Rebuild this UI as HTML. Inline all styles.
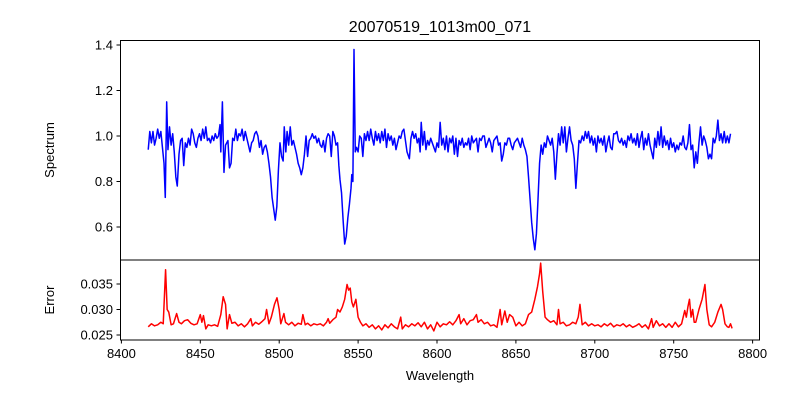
<!DOCTYPE html>
<html><head><meta charset="utf-8"><style>
html,body{margin:0;padding:0;background:#fff;}
svg{display:block;font-family:"Liberation Sans","DejaVu Sans",sans-serif;}
</style></head><body>
<svg id="chart" width="800" height="400" viewBox="0 0 800 400">
<text x="440" y="32" font-size="16" text-anchor="middle">20070519_1013m00_071</text>
<text transform="translate(54,150) rotate(-90)" font-size="13" text-anchor="middle">Spectrum</text>
<text transform="translate(54,300) rotate(-90)" font-size="13" text-anchor="middle">Error</text>
<text x="440" y="380" font-size="13" text-anchor="middle">Wavelength</text>
<g id="g"></g>
</svg>
<script>
const specW=[8417,8418,8419,8420,8421,8422,8423,8424,8425,8426,8427,8427.8,8428.7,8429.5,8430.5,8431.5,8432.5,8433.5,8434.5,8435.4,8436.5,8437.5,8438.5,8439.5,8440.5,8441.5,8442.5,8443.5,8444.5,8445.5,8446.5,8447.5,8448.5,8449.5,8450.5,8451.5,8452.5,8453.5,8454.5,8455.5,8456.5,8457.5,8458.5,8459.5,8460.5,8461.5,8462.5,8463,8464,8465,8466,8467.5,8468.5,8469.5,8470.5,8471.5,8472.5,8473.5,8474.5,8475.5,8476.5,8477.5,8478.5,8479.5,8480.5,8481.5,8482.5,8483.5,8484.5,8485.5,8486.5,8487.5,8488.5,8489.5,8490.5,8491.5,8492.5,8493.5,8494.5,8495.5,8496.5,8497.5,8498.5,8499.5,8500.5,8501.5,8502.5,8503.2,8504.2,8505,8506,8507,8508,8509,8510,8511,8512,8513,8514,8515,8516,8517,8518,8519,8520,8521,8522,8523,8524,8525,8526,8527,8528,8529,8530,8531,8532,8533,8534,8535,8536,8537,8537.8,8538.5,8539.5,8540.5,8541.5,8542.5,8543.5,8544.5,8545.5,8546,8546.7,8547.4,8548.2,8549,8550,8551,8552,8553,8554,8555,8556,8557,8558,8559,8560,8561,8562,8563,8564,8565,8566,8567,8568,8569,8570,8571,8572,8573,8574,8575,8576,8577,8578,8579,8580,8581,8582.5,8583.5,8584.5,8585.5,8586.5,8587.5,8588.5,8589.3,8590,8591,8592,8593,8594,8595,8596,8597,8598,8599,8600,8601,8602,8603,8604,8605,8606,8607,8608,8609,8610,8611,8612,8613,8614,8615,8616,8617,8618,8619,8620,8621,8622,8623,8624,8625,8626,8627,8628,8629,8630,8631,8632,8633,8634,8635,8636,8637,8638,8639,8640,8641,8642,8643,8644,8645,8646,8647,8648,8649,8650,8651,8652,8653,8654,8655,8656,8657,8658,8659,8660,8661,8662,8663,8664,8665,8666,8667,8668,8669,8670,8671,8672,8673,8674,8675,8676,8677,8678,8679,8680,8681,8682,8683,8684,8685,8686,8687,8688,8689,8690,8691,8692,8693,8694,8695,8696,8697,8698,8699,8700,8701,8702,8703,8704,8705,8706,8707,8708,8709,8710,8711,8712,8713,8714,8715,8716,8717,8718,8719,8720,8721,8722,8723,8724,8725,8726,8727,8728,8729,8730,8731,8732,8733,8734,8735,8736,8737,8738,8739,8740,8741,8742,8743,8744,8745,8746,8747,8748,8749,8750,8751,8752,8753,8754,8755,8756,8757,8758,8759,8760,8761,8762,8763,8764,8765,8766,8767,8768,8769,8770,8771,8772,8773,8774,8775,8776,8777,8778,8779,8780,8781,8782,8783,8784,8785,8786];
const specV=[.94,1.02,.97,1.02,.96,.99,1.03,.99,1.02,.95,.88,.73,1.15,.94,1.04,.96,1.01,.93,.82,.78,.92,.98,.99,.87,.97,.95,.99,.96,1.03,1.01,.97,.95,.99,1.01,.98,1.03,.99,1.04,.98,.99,.97,1.0,.98,1.01,.99,1.0,1.05,.93,1.15,.84,.96,.98,.86,.88,.99,.98,1.03,.98,1.01,1.0,1.03,.98,1.02,.99,.96,.93,.97,.98,1.01,1.02,1.0,.95,.98,.92,.95,.96,.93,.88,.82,.73,.68,.63,.69,.85,.97,.91,.89,1.04,.93,1.02,.96,1.04,.96,.98,.95,.92,.88,.86,.83,.86,.92,1.0,.91,.98,.99,1.01,.99,1.0,.97,.99,.96,.95,.98,.93,.99,1.01,1.0,.91,1.02,1.0,.96,.97,.87,.81,.75,.63,.525,.56,.64,.7,.77,.83,.8,1.38,.93,.95,.93,1.0,.99,.91,1.01,.98,1.02,.98,1.03,.99,.96,1.02,.98,1.01,.97,1.02,.98,1.03,.95,1.01,.98,1.0,.96,.99,.94,.97,1.0,.99,1.02,1.03,.98,.93,.9,.99,1.02,.99,1.01,.97,.99,.93,1.06,.96,1.02,.94,.98,.96,.99,.97,.95,.93,.97,.95,1.06,.96,.99,.94,1.0,.93,.99,.97,1.0,.92,.99,.91,.98,.96,.99,.95,.97,.96,.99,.94,1.0,.97,.98,.99,.93,.99,.98,1.0,1.0,.95,.97,.99,.97,.93,.98,.99,1.0,.96,.97,.89,.92,.97,.96,.99,.99,.96,.94,.97,.98,.99,.97,.95,.99,.96,.94,.91,.82,.72,.62,.55,.5,.57,.72,.88,.96,.92,.97,.95,1.0,.98,.96,.99,.93,.81,.92,1.01,.96,1.04,.97,1.04,.93,.99,1.04,.98,.96,.9,.77,.88,.98,.97,1.0,.98,1.02,.99,1.02,.97,1.0,.96,.99,.93,1.0,.97,.99,.96,1.0,.93,.97,1.0,.95,.94,1.01,1.01,1.02,.98,.97,.99,.96,.98,.95,1.0,.98,1.01,.97,.99,.96,1.01,.95,.99,1.02,.94,.99,.96,1.01,.96,.93,.9,.99,.95,1.02,.96,1.04,.95,1.0,.96,.98,.94,.99,.95,.97,.93,.96,.94,.97,.96,1.0,.95,.94,.97,1.05,.94,.96,.86,.93,.88,.97,1.04,.96,1.0,.98,.95,.9,.92,.9,.99,.97,1.0,1.07,.98,1.01,.97,1.02,.97,1.0,.97,1.01];
const errW=[8417,8419,8421,8423,8425,8426.5,8428,8429,8430,8431.5,8433,8435,8436.5,8438,8440,8442,8444,8446,8448,8450,8451,8452,8453.5,8455,8457,8459,8461,8463,8464.5,8466,8467,8468.5,8470,8472,8474,8476,8478,8480,8482,8483,8485,8487,8489,8491,8492,8493.5,8495,8497,8498.6,8500,8501,8503,8504,8506,8508,8510,8512,8514,8515,8516.5,8518,8520,8522,8524,8526,8528,8530,8531,8532,8534,8536,8537,8538.5,8540,8541.5,8543,8544,8545,8546,8547,8548.6,8550,8551.5,8553,8555,8557,8559,8561,8563,8565,8567,8569,8571,8573,8575,8577,8578,8580,8582,8584,8586,8588,8590,8592,8594,8596,8598,8600,8602,8604,8606,8608,8610,8612,8614,8615,8617,8619,8621,8623,8625,8626,8628,8630,8632,8634,8636,8638,8640,8641,8643,8644.5,8646,8648,8650,8652,8654,8656,8658,8660,8662,8663.7,8665,8665.7,8667,8668.5,8670,8672,8674,8676,8677,8678,8680,8682,8684,8686,8688,8689.5,8690.6,8692,8694,8696,8698,8700,8702,8704,8706,8708,8710,8712,8714,8716,8718,8720,8722,8724,8726,8728,8730,8732,8734,8736,8737,8739,8741,8743,8745,8747,8749,8751,8753,8755,8757,8758,8759,8760,8761,8762,8763,8764,8766,8768,8769.8,8771,8772.5,8774,8776,8778,8780,8781,8782.5,8784,8785,8786,8787];
const errV=[.0266,.0272,.0268,.027,.0275,.0272,.0378,.03,.0295,.027,.0272,.0292,.0275,.0272,.0278,.028,.0273,.027,.0272,.029,.0275,.0288,.0262,.027,.0268,.027,.0267,.029,.0325,.031,.0262,.029,.0273,.0275,.0268,.0272,.0266,.0272,.0282,.0268,.0275,.0271,.0276,.0282,.03,.0272,.0285,.031,.0323,.03,.0272,.0292,.0275,.027,.0275,.0268,.0273,.0271,.029,.027,.0273,.0268,.0272,.027,.0272,.0268,.0275,.0282,.0273,.028,.0285,.03,.0295,.0305,.032,.0349,.0338,.0342,.0315,.0305,.032,.0285,.0275,.0268,.0272,.0265,.027,.0262,.0268,.026,.027,.0264,.0272,.0266,.0262,.0285,.0262,.027,.0266,.0272,.0268,.0274,.0266,.0275,.0262,.027,.0258,.0275,.0266,.0272,.027,.0276,.027,.0278,.029,.0272,.0282,.027,.0278,.028,.029,.0275,.028,.0272,.0275,.0268,.027,.0265,.03,.027,.0297,.0275,.029,.0285,.0268,.0275,.0268,.0272,.029,.0295,.032,.0345,.037,.0391,.0335,.0285,.028,.0275,.0278,.027,.03,.0272,.0275,.0268,.027,.0275,.0272,.0285,.031,.027,.0275,.0268,.0272,.0268,.027,.0266,.0272,.0268,.0273,.0266,.027,.0268,.0272,.0266,.027,.0265,.0268,.0272,.0265,.027,.0262,.0282,.0265,.0278,.0268,.0272,.0265,.0272,.0265,.0275,.0266,.0272,.0298,.0285,.0305,.032,.0285,.03,.0275,.0275,.03,.032,.0349,.03,.027,.0266,.0275,.0295,.031,.03,.0272,.0266,.0265,.0272,.0263];
const xTicks=[8400,8450,8500,8550,8600,8650,8700,8750,8800];
const specTicks=[0.6,0.8,1.0,1.2,1.4];
const errTicks=[0.025,0.030,0.035];

const NS='http://www.w3.org/2000/svg';
const g=document.getElementById('g');
const X=w=>121.4+(w-8400)*1.578;
const YS=v=>136-(v-1.0)*227.5;
const YE=v=>309.5-(v-0.030)*5100;
function mk(t,a){const e=document.createElementNS(NS,t);for(const k in a)e.setAttribute(k,a[k]);g.appendChild(e);return e;}

let p=mk('path',{d:specW.map((w,i)=>(i?'L':'M')+X(w).toFixed(2)+','+YS(specV[i]).toFixed(2)).join(''),fill:'none',stroke:'#0000ff','stroke-width':1.5,'stroke-linejoin':'round'});


p=mk('path',{d:errW.map((w,i)=>(i?'L':'M')+X(w).toFixed(2)+','+YE(errV[i]).toFixed(2)).join(''),fill:'none',stroke:'#ff0000','stroke-width':1.5,'stroke-linejoin':'round'});



let r=mk('rect',{x:120.5,y:40.5,width:639,height:219.5,fill:'none',stroke:'#000','stroke-width':1});


r=mk('rect',{x:120.5,y:260,width:639,height:80,fill:'none',stroke:'#000','stroke-width':1});



xTicks.forEach(t=>{const x=X(t);
 let l=mk('line',{x1:x,x2:x,y1:340,y2:343.5,stroke:'#000'});
 
 
 let tx=mk('text',{x:x,y:358,'font-size':13,'text-anchor':'middle'});tx.textContent=t;
 
 
});
specTicks.forEach(t=>{const y=YS(t);
 let l=mk('line',{x1:116.5,x2:120.5,y1:y,y2:y,stroke:'#000'});
 
 
 let tx=mk('text',{x:113,y:y+4.5,'font-size':13,'text-anchor':'end'});tx.textContent=t.toFixed(1);
 
 
});
errTicks.forEach(t=>{const y=YE(t);
 let l=mk('line',{x1:116.5,x2:120.5,y1:y,y2:y,stroke:'#000'});
 
 
 let tx=mk('text',{x:113,y:y+4.5,'font-size':13,'text-anchor':'end'});tx.textContent=t.toFixed(3);
 
 
});
</script>
</body></html>
